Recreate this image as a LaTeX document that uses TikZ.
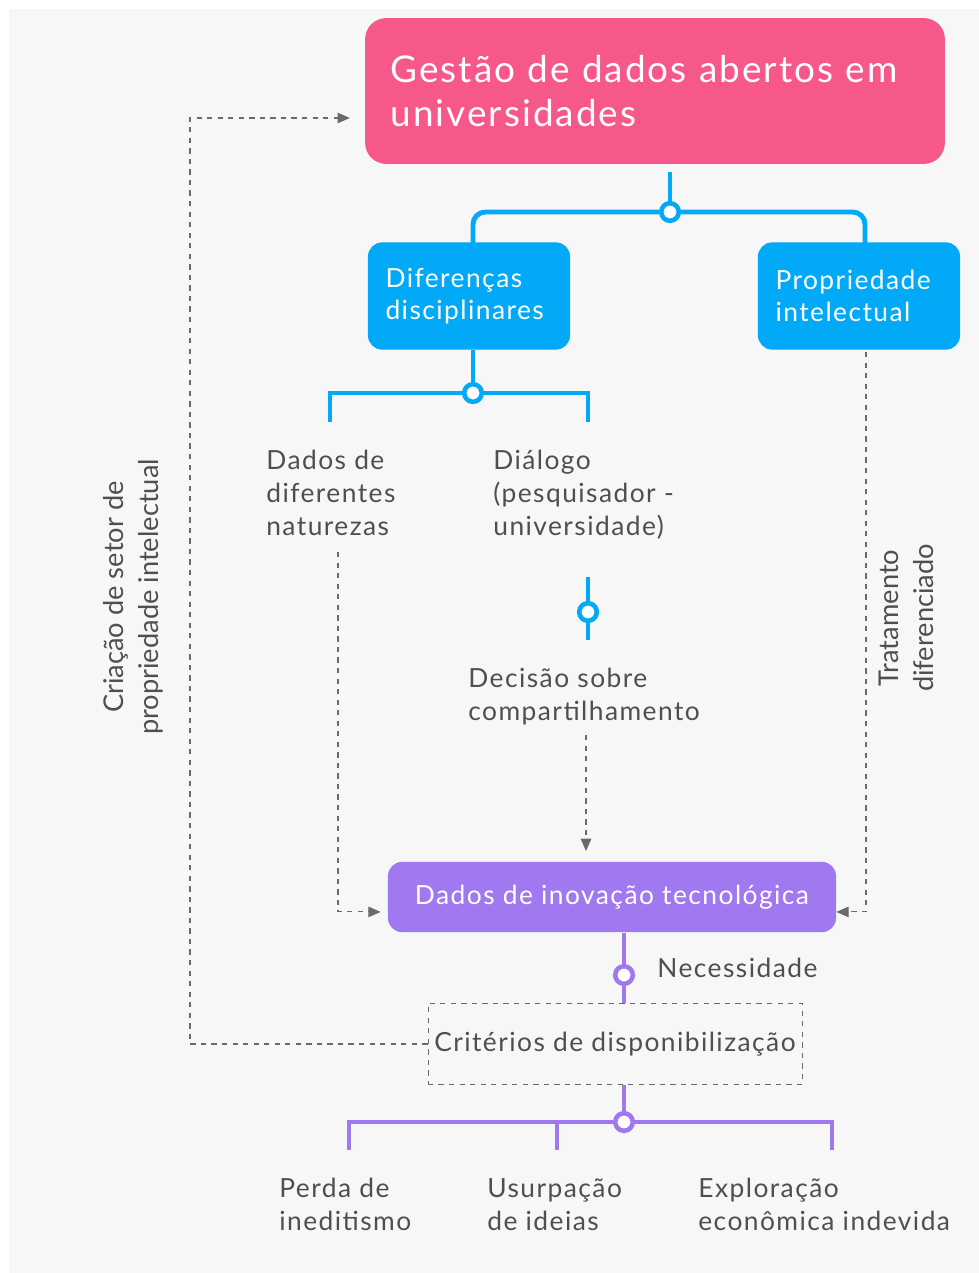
\documentclass[tikz,border=0pt]{standalone}
\usepackage{fontspec}
\setmainfont{Lato}
\newfontfamily\spaced[LetterSpace=5.5]{Lato}
\usetikzlibrary{positioning, arrows.meta}

\definecolor{bggray}{HTML}{F7F7F7}
\definecolor{titlepink}{HTML}{F6588A}
\definecolor{boxblue}{HTML}{02A9F7}
\definecolor{boxpurple}{HTML}{A078F0}
\definecolor{txtgray}{HTML}{4F4F4F}
\definecolor{dashgray}{HTML}{6A6A6A}

\tikzset{
  titlebox/.style={fill=titlepink, rounded corners=12pt, text=white, align=left,
    minimum width=330pt, minimum height=83pt, text width=301pt, inner xsep=14.5pt,
    font=\spaced\fontsize{21}{25.5}\selectfont},
  bluebox/.style={fill=boxblue, rounded corners=8pt, text=white, align=left,
    minimum width=113pt, minimum height=61pt, text width=95pt, inner xsep=10pt,
    font=\spaced\fontsize{15}{18}\selectfont},
  purplebox/.style={fill=boxpurple, rounded corners=8pt, text=white,
    minimum width=255pt, minimum height=40pt, font=\spaced\fontsize{15}{18}\selectfont},
  critbox/.style={draw=dashgray, dashed, text=txtgray, minimum width=213pt,
    minimum height=46pt, font=\spaced\fontsize{15}{18}\selectfont},
  leaf/.style={align=left, text=txtgray, inner sep=0pt, anchor=north west,
    font=\spaced\fontsize{15}{18.8}\selectfont},
  sidelabel/.style={align=center, text=txtgray, rotate=90, inner sep=0pt,
    font=\fontsize{15.5}{20}\selectfont},
  joint/.style={circle, draw=#1, fill=white, line width=2.6pt, minimum size=10pt, inner sep=0pt},
  treeline/.style={draw=#1, line width=2.8pt},
  dashlink/.style={draw=dashgray, dashed, line width=0.6pt, -{Triangle[length=7pt, width=6pt]}},
}

\begin{document}
\begin{tikzpicture}[x=0.02cm, y=-0.02cm]
  \useasboundingbox (0,0) rectangle (979,1273);
  \fill[bggray] (9,9) rectangle (979,1273);

  % boxes
  \node[titlebox] (title) at (655,91) {Gestão de dados abertos em\\universidades};
  \node[bluebox] (dif) at (469,296) {Diferenças\\disciplinares};
  \node[bluebox] (prop) at (859,296) {Propriedade\\intelectual};
  \node[purplebox] (innov) at (612,897) {Dados de inovação tecnológica};
  \node[critbox] (crit) at (615,1044) {Critérios de disponibilização};

  % texts
  \node[leaf] (dadosnat) at (266,450) {Dados de\\diferentes\\naturezas};
  \node[leaf] (dialogo) at (493,450) {Diálogo\\(pesquisador -\\universidade)};
  \node[leaf] (decisao) at (468,668) {Decisão sobre\\compartilhamento};
  \node[leaf] (necess) at (657,958) {Necessidade};
  \node[leaf] (perda) at (279,1178) {Perda de\\ineditismo};
  \node[leaf] (usurp) at (487,1178) {Usurpação\\de ideias};
  \node[leaf] (explor) at (698,1178) {Exploração\\econômica indevida};
  \node[sidelabel] (criacao) at (133,597) {Criação de setor de\\propriedade intelectual};
  \node[sidelabel] (tratam) at (906,618) {Tratamento\\diferenciado};

  % joints
  \node[joint=boxblue] (j0) at (670,212) {};
  \node[joint=boxblue] (j1) at (473,393) {};
  \node[joint=boxblue] (j2) at (588,612) {};
  \node[joint=boxpurple] (j3) at (624,975) {};
  \node[joint=boxpurple] (j4) at (624,1122) {};

  \coordinate (d1) at (330,422);
  \coordinate (d2) at (588,422);
  \coordinate (t2a) at (588,577);
  \coordinate (t2b) at (588,640);
  \coordinate (p1) at (349,1150);
  \coordinate (p2) at (557,1150);
  \coordinate (p3) at (832,1150);
  \coordinate (n1) at (338,552);
  \coordinate (n2) at (866,352);
  \coordinate (n3) at (586,735);
  \coordinate (c4) at (190,118);

  % blue tree
  \draw[treeline=boxblue] (670,172) -- (j0);
  \draw[treeline=boxblue, rounded corners=7pt] (j0) -| (473,245);
  \draw[treeline=boxblue, rounded corners=7pt] (j0) -| (865,245);
  \draw[treeline=boxblue] (dif.south -| j1) -- (j1);
  \draw[treeline=boxblue] (j1) -| (d1);
  \draw[treeline=boxblue] (j1) -| (d2);
  \draw[treeline=boxblue] (t2a) -- (j2) -- (t2b);

  % purple tree
  \draw[treeline=boxpurple] (innov.south -| j3) -- (j3) -- (crit.north -| j3);
  \draw[treeline=boxpurple] (crit.south -| j4) -- (j4);
  \draw[treeline=boxpurple] (j4) -| (p1);
  \draw[treeline=boxpurple] (j4) -| (p2);
  \draw[treeline=boxpurple] (j4) -| (p3);

  % dashed links
  \draw[dashlink, shorten >=4pt] (n1) |- ([yshift=-8.5pt]innov.west);
  \draw[dashlink, shorten >=0pt] (n2) |- ([yshift=-8.5pt]innov.east);
  \draw[dashlink, shorten >=6pt] (n3) -- (n3 |- innov.north);
  \draw[dashlink, shorten >=8.5pt] (crit.west) -| (c4) -- (c4 -| title.west);
\end{tikzpicture}
\end{document}
